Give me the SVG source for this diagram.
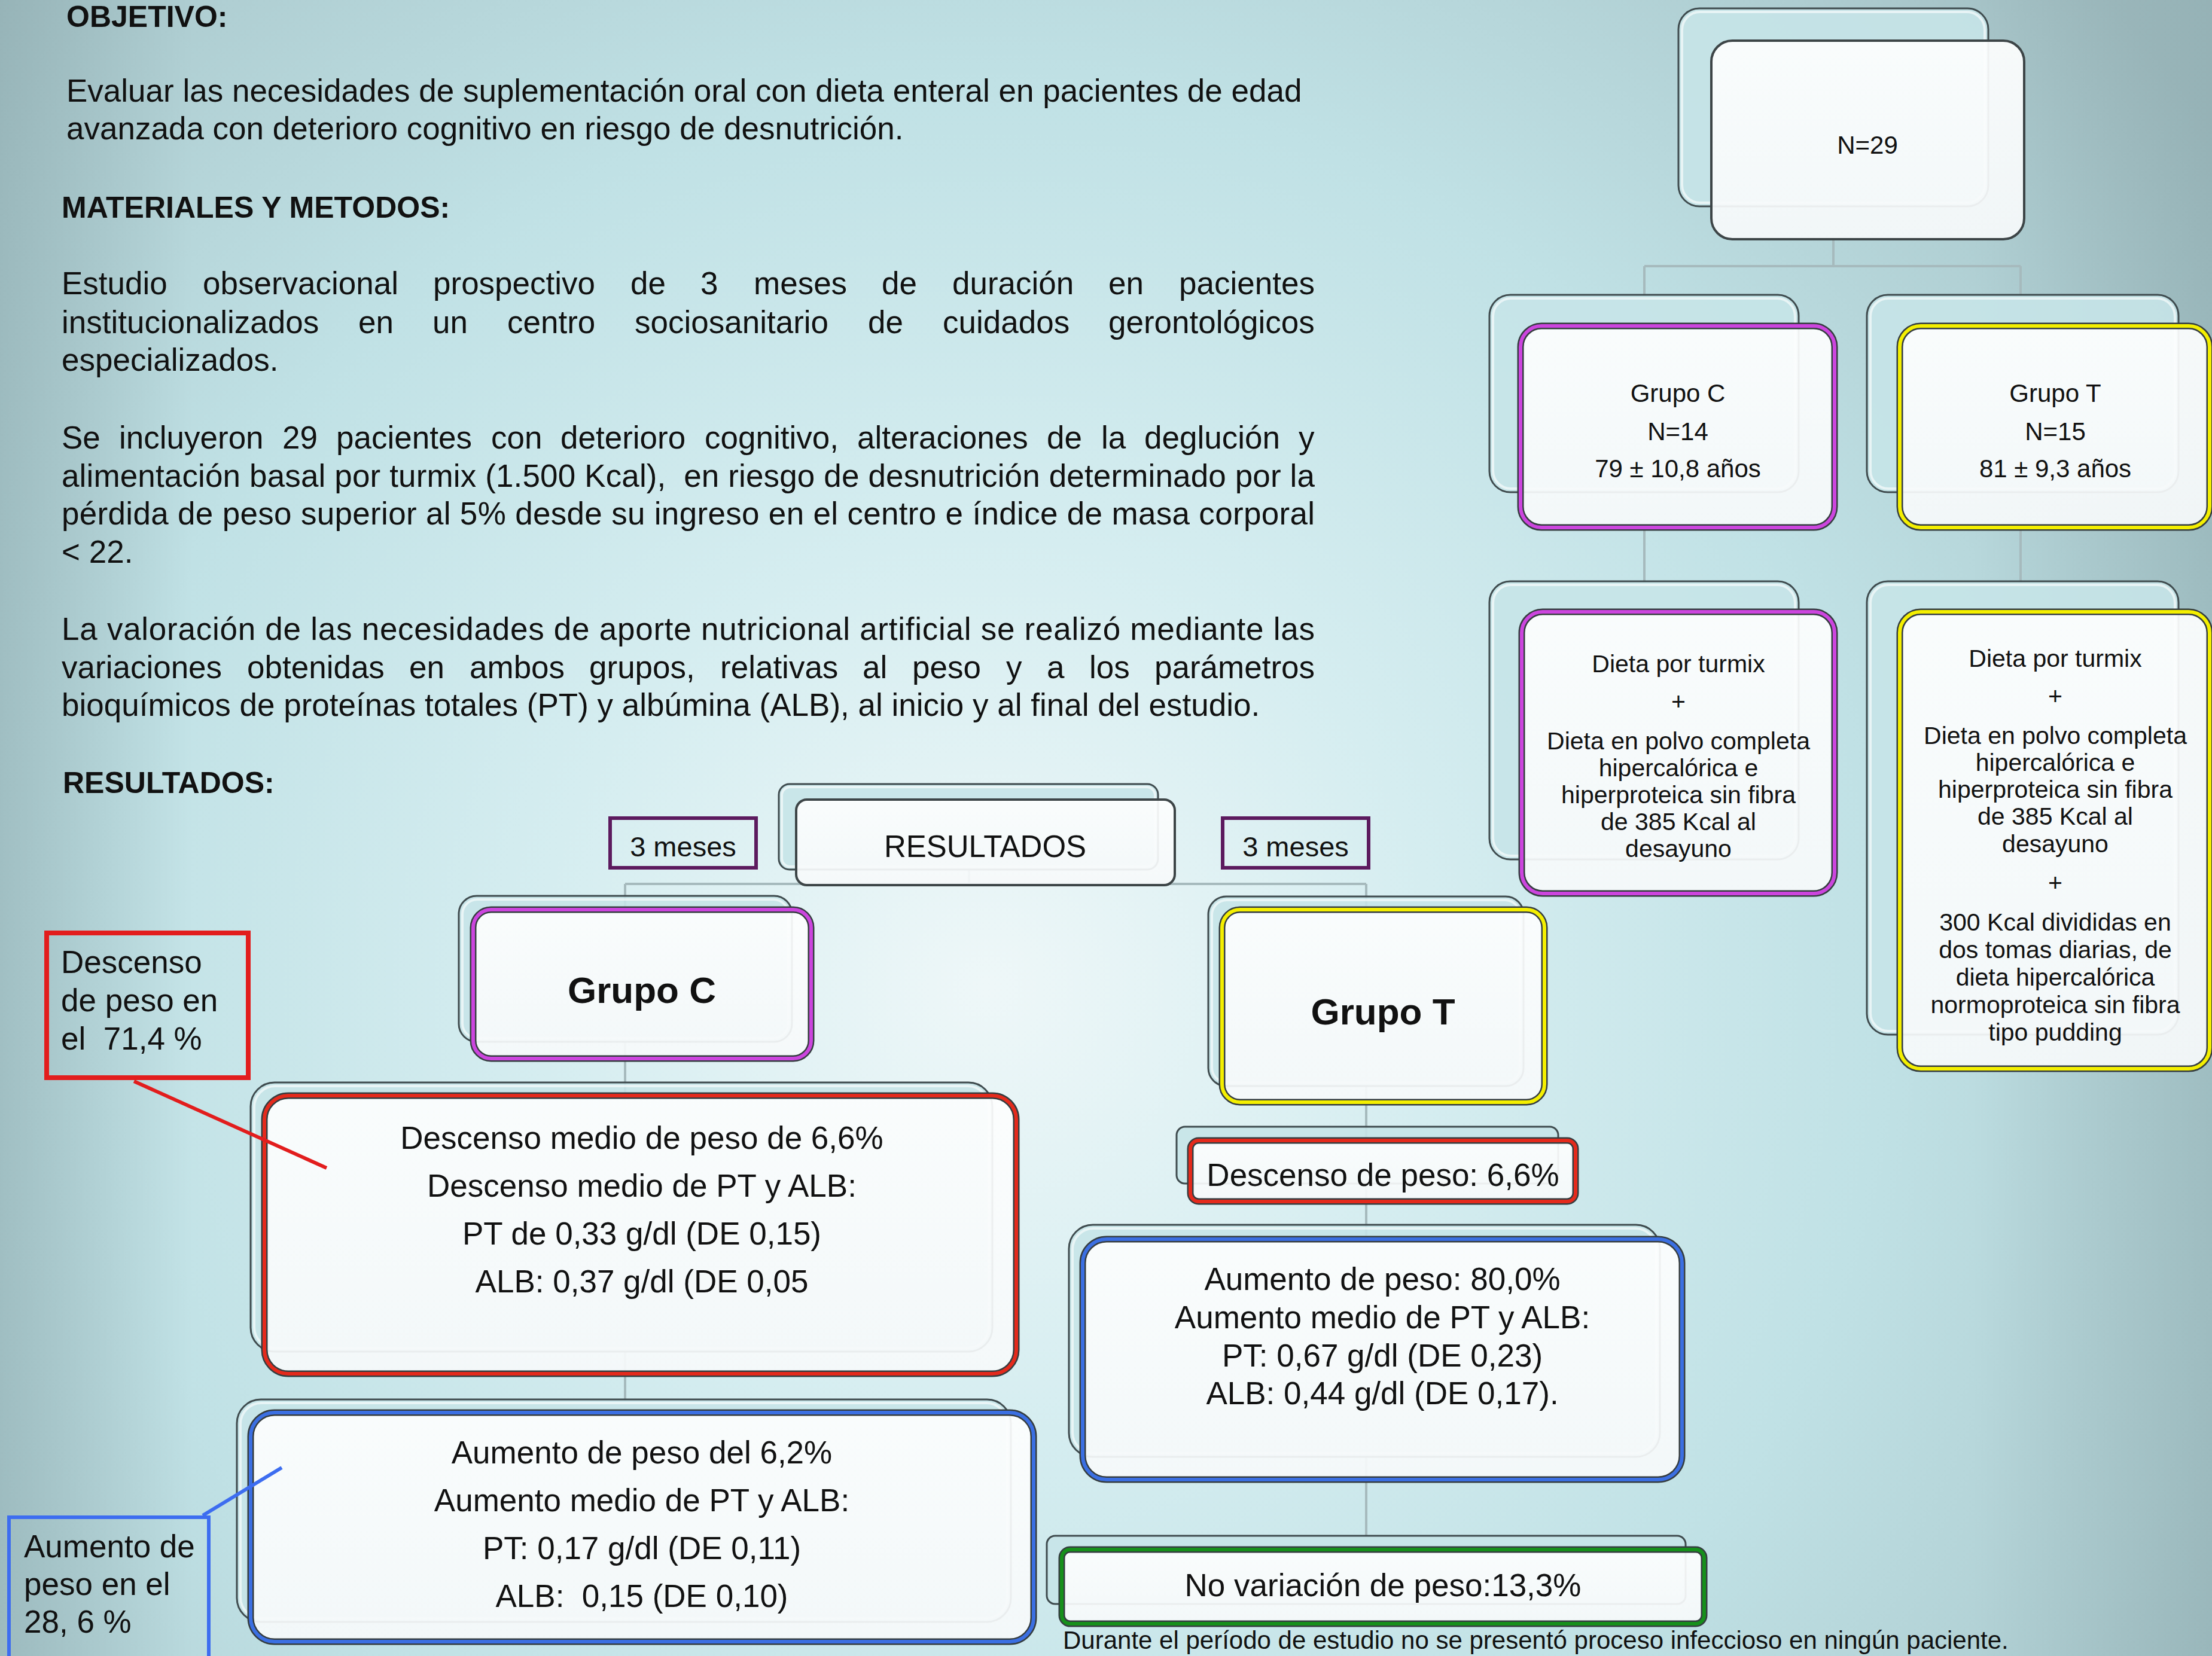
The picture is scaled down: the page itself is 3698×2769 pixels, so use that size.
<svg xmlns="http://www.w3.org/2000/svg" width="3698" height="2769" viewBox="0 0 3698 2769">
<defs>
<radialGradient id="bg" cx="1650" cy="1650" r="2500" gradientUnits="userSpaceOnUse">
<stop offset="0" stop-color="#eef7f8"/>
<stop offset="0.3" stop-color="#d5edf0"/>
<stop offset="0.6" stop-color="#c0e1e5"/>
<stop offset="0.85" stop-color="#aecdd1"/>
<stop offset="1" stop-color="#9fbbbf"/>
</radialGradient>
<linearGradient id="leftShade" x1="0" y1="0" x2="1" y2="0">
<stop offset="0" stop-color="#8aa7ab" stop-opacity="0.55"/>
<stop offset="1" stop-color="#8aa7ab" stop-opacity="0"/>
</linearGradient>
<linearGradient id="rightShade" x1="0" y1="0" x2="1" y2="0">
<stop offset="0" stop-color="#8aa7ab" stop-opacity="0"/>
<stop offset="1" stop-color="#8aa7ab" stop-opacity="0.45"/>
</linearGradient>
<linearGradient id="frontFill" x1="0" y1="0" x2="0" y2="1">
<stop offset="0" stop-color="#fdfefe"/>
<stop offset="1" stop-color="#f6f9fa"/>
</linearGradient>
</defs>
<style>
text{font-family:"Liberation Sans",Arial,sans-serif;fill:#111}
.body{font-size:53px}
.head{font-size:50px;font-weight:bold}
.n42{font-size:42px;text-anchor:middle}
.n41{font-size:41px;text-anchor:middle}
.n53{font-size:53px;text-anchor:middle}
.n47{font-size:47px;text-anchor:middle}
.big{font-size:62px;font-weight:bold;text-anchor:middle}
.back{fill:#c7e4e8;fill-opacity:0.9;stroke:#3f4b4e;stroke-width:3}
.backhl{fill:none;stroke:#ffffff;stroke-opacity:0.6;stroke-width:4}
.front{fill:url(#frontFill);fill-opacity:0.93;stroke:#353d40;stroke-width:11}
.plain{fill:url(#frontFill);fill-opacity:0.93;stroke:#3d4547;stroke-width:4}
.mag{fill:none;stroke:#cc45de;stroke-width:6}
.yel{fill:none;stroke:#f4ef00;stroke-width:6}
.red{fill:none;stroke:#e42a1c;stroke-width:6}
.blu{fill:none;stroke:#3b6fe2;stroke-width:6}
.grn{fill:none;stroke:#16901b;stroke-width:6}
.conn{stroke:#a6babd;stroke-width:4;fill:none}
.mes{fill:none;stroke:#5c1a5e;stroke-width:6}
</style>

<rect x="0" y="0" width="3698" height="2769" fill="url(#bg)"/>
<rect x="0" y="0" width="320" height="2769" fill="url(#leftShade)"/>
<rect x="3300" y="0" width="398" height="2769" fill="url(#rightShade)"/>

<!-- Left text -->
<g id="texto">
<text class="head" x="111" y="45">OBJETIVO:</text>
<text class="body" x="111" y="170">Evaluar las necesidades de suplementación oral con dieta enteral en pacientes de edad</text>
<text class="body" x="111" y="233">avanzada con deterioro cognitivo en riesgo de desnutrición.</text>
<text class="head" x="103" y="364">MATERIALES Y METODOS:</text>
<text class="body" y="492"><tspan x="103">Estudio</tspan><tspan x="339">observacional</tspan><tspan x="724">prospectivo</tspan><tspan x="1054">de</tspan><tspan x="1171">3</tspan><tspan x="1260">meses</tspan><tspan x="1474">de</tspan><tspan x="1592">duración</tspan><tspan x="1853">en</tspan><tspan x="1971">pacientes</tspan></text>
<text class="body" y="557"><tspan x="103">institucionalizados</tspan><tspan x="599">en</tspan><tspan x="723">un</tspan><tspan x="848">centro</tspan><tspan x="1061">sociosanitario</tspan><tspan x="1451">de</tspan><tspan x="1576">cuidados</tspan><tspan x="1853">gerontológicos</tspan></text>
<text class="body" x="103" y="620">especializados.</text>
<text class="body" y="750"><tspan x="103">Se</tspan><tspan x="199">incluyeron</tspan><tspan x="472">29</tspan><tspan x="562">pacientes</tspan><tspan x="821">con</tspan><tspan x="937">deterioro</tspan><tspan x="1178">cognitivo,</tspan><tspan x="1433">alteraciones</tspan><tspan x="1750">de</tspan><tspan x="1841">la</tspan><tspan x="1913">deglución</tspan><tspan x="2171">y</tspan></text>
<text class="body" x="103" y="814" textLength="2095" lengthAdjust="spacing" xml:space="preserve">alimentación basal por turmix (1.500 Kcal),  en riesgo de desnutrición determinado por la</text>
<text class="body" x="103" y="877" textLength="2095" lengthAdjust="spacing">pérdida de peso superior al 5% desde su ingreso en el centro e índice de masa corporal</text>
<text class="body" x="103" y="941">&lt; 22.</text>
<text class="body" x="103" y="1070" textLength="2095" lengthAdjust="spacing">La valoración de las necesidades de aporte nutricional artificial se realizó mediante las</text>
<text class="body" y="1134"><tspan x="103">variaciones</tspan><tspan x="413">obtenidas</tspan><tspan x="684">en</tspan><tspan x="785">ambos</tspan><tspan x="985">grupos,</tspan><tspan x="1204">relativas</tspan><tspan x="1442">al</tspan><tspan x="1525">peso</tspan><tspan x="1682">y</tspan><tspan x="1750">a</tspan><tspan x="1821">los</tspan><tspan x="1930">parámetros</tspan></text>
<text class="body" x="103" y="1197">bioquímicos de proteínas totales (PT) y albúmina (ALB), al inicio y al final del estudio.</text>
<text class="head" x="105" y="1326">RESULTADOS:</text>
<text style="font-size:42px" x="1777" y="2757">Durante el período de estudio no se presentó proceso infeccioso en ningún paciente.</text>
</g>

<!-- Connectors -->
<g id="connectors">
<path class="conn" d="M3065,400 V445 M2749,445 H3378 M2749,445 V495 M3378,445 V495 M2749,880 V974 M3378,880 V974"/>
<path class="conn" d="M1620,1450 V1478 M1045,1478 H2284 M1045,1478 V2342 M2284,1478 V2570"/>
</g>

<!-- Top right hierarchy -->
<g id="n29">
<rect class="back" x="2806" y="14" width="518" height="331" rx="35"/>
<rect class="backhl" x="2812" y="20" width="506" height="319" rx="30"/>
<rect class="plain" x="2861" y="68" width="523" height="332" rx="35"/>
<text class="n42" x="3122" y="257">N=29</text>
</g>

<g id="grupoC-top">
<rect class="back" x="2490" y="493" width="517" height="330" rx="35"/>
<rect class="backhl" x="2496" y="499" width="505" height="318" rx="30"/>
<rect class="front" x="2542" y="545" width="525" height="337" rx="35"/>
<rect class="mag" x="2542" y="545" width="525" height="337" rx="35"/>
<text class="n42" x="2805" y="672">Grupo C</text>
<text class="n42" x="2805" y="736">N=14</text>
<text class="n42" x="2805" y="798">79 ± 10,8 años</text>
</g>

<g id="grupoT-top">
<rect class="back" x="3121" y="493" width="521" height="330" rx="35"/>
<rect class="backhl" x="3127" y="499" width="509" height="318" rx="30"/>
<rect class="front" x="3176" y="545" width="518" height="337" rx="35"/>
<rect class="yel" x="3176" y="545" width="518" height="337" rx="35"/>
<text class="n42" x="3436" y="672">Grupo T</text>
<text class="n42" x="3436" y="736">N=15</text>
<text class="n42" x="3436" y="798">81 ± 9,3 años</text>
</g>

<g id="dietaC">
<rect class="back" x="2490" y="972" width="517" height="465" rx="35"/>
<rect class="backhl" x="2496" y="978" width="505" height="453" rx="30"/>
<rect class="front" x="2544" y="1023" width="523" height="471" rx="35"/>
<rect class="mag" x="2544" y="1023" width="523" height="471" rx="35"/>
<text class="n41" x="2806" y="1124">Dieta por turmix</text>
<text class="n41" x="2806" y="1187">+</text>
<text class="n41" x="2806" y="1253">Dieta en polvo completa</text>
<text class="n41" x="2806" y="1298">hipercalórica e</text>
<text class="n41" x="2806" y="1343">hiperproteica sin fibra</text>
<text class="n41" x="2806" y="1388">de 385 Kcal al</text>
<text class="n41" x="2806" y="1433">desayuno</text>
</g>

<g id="dietaT">
<rect class="back" x="3121" y="972" width="521" height="758" rx="35"/>
<rect class="backhl" x="3127" y="978" width="509" height="746" rx="30"/>
<rect class="front" x="3176" y="1023" width="518" height="764" rx="35"/>
<rect class="yel" x="3176" y="1023" width="518" height="764" rx="35"/>
<text class="n41" x="3436" y="1115">Dieta por turmix</text>
<text class="n41" x="3436" y="1178">+</text>
<text class="n41" x="3436" y="1244">Dieta en polvo completa</text>
<text class="n41" x="3436" y="1289">hipercalórica e</text>
<text class="n41" x="3436" y="1334">hiperproteica sin fibra</text>
<text class="n41" x="3436" y="1379">de 385 Kcal al</text>
<text class="n41" x="3436" y="1425">desayuno</text>
<text class="n41" x="3436" y="1490">+</text>
<text class="n41" x="3436" y="1556">300 Kcal divididas en</text>
<text class="n41" x="3436" y="1602">dos tomas diarias, de</text>
<text class="n41" x="3436" y="1648">dieta hipercalórica</text>
<text class="n41" x="3436" y="1694">normoproteica sin fibra</text>
<text class="n41" x="3436" y="1740">tipo pudding</text>
</g>

<!-- Results hierarchy -->
<g id="resultados">
<rect class="back" x="1302" y="1311" width="634" height="143" rx="18"/>
<rect class="backhl" x="1307" y="1316" width="624" height="133" rx="14"/>
<rect class="plain" x="1331" y="1337" width="633" height="143" rx="18"/>
<text style="font-size:51px;text-anchor:middle" x="1647" y="1433">RESULTADOS</text>
</g>

<g id="meses-C">
<rect class="mes" x="1020" y="1368" width="244" height="83"/>
<text class="n47" x="1142" y="1432">3 meses</text>
</g>
<g id="meses-T">
<rect class="mes" x="2044" y="1368" width="244" height="83"/>
<text class="n47" x="2166" y="1432">3 meses</text>
</g>

<g id="grupoC-res">
<rect class="back" x="767" y="1498" width="557" height="244" rx="30"/>
<rect class="backhl" x="773" y="1504" width="545" height="232" rx="25"/>
<rect class="front" x="791" y="1521" width="565" height="249" rx="30"/>
<rect class="mag" x="791" y="1521" width="565" height="249" rx="30"/>
<text class="big" x="1073" y="1677">Grupo C</text>
</g>

<g id="grupoT-res">
<rect class="back" x="2020" y="1499" width="527" height="317" rx="30"/>
<rect class="backhl" x="2026" y="1505" width="515" height="305" rx="25"/>
<rect class="front" x="2043" y="1521" width="539" height="322" rx="30"/>
<rect class="yel" x="2043" y="1521" width="539" height="322" rx="30"/>
<text class="big" x="2312" y="1713">Grupo T</text>
</g>

<g id="descensoC">
<rect class="back" x="419" y="1810" width="1240" height="450" rx="40"/>
<rect class="backhl" x="425" y="1816" width="1228" height="438" rx="35"/>
<rect class="front" x="442" y="1832" width="1257" height="465" rx="40"/>
<rect class="red" x="442" y="1832" width="1257" height="465" rx="40"/>
<text class="n53" x="1073" y="1921">Descenso medio de peso de 6,6%</text>
<text class="n53" x="1073" y="2001">Descenso medio de PT y ALB:</text>
<text class="n53" x="1073" y="2081">PT de 0,33 g/dl (DE 0,15)</text>
<text class="n53" x="1073" y="2161">ALB: 0,37 g/dl (DE 0,05</text>
</g>

<g id="aumentoC">
<rect class="back" x="396" y="2340" width="1294" height="372" rx="40"/>
<rect class="backhl" x="402" y="2346" width="1282" height="360" rx="35"/>
<rect class="front" x="419" y="2362" width="1309" height="383" rx="40"/>
<rect class="blu" x="419" y="2362" width="1309" height="383" rx="40"/>
<text class="n53" x="1073" y="2447">Aumento de peso del 6,2%</text>
<text class="n53" x="1073" y="2527">Aumento medio de PT y ALB:</text>
<text class="n53" x="1073" y="2607">PT: 0,17 g/dl (DE 0,11)</text>
<text class="n53" x="1073" y="2687" xml:space="preserve">ALB:  0,15 (DE 0,10)</text>
</g>

<g id="descensoT">
<rect class="back" x="1967" y="1884" width="638" height="95" rx="14"/>
<rect class="front" x="1990" y="1907" width="644" height="102" rx="14"/>
<rect class="red" x="1990" y="1907" width="644" height="102" rx="14"/>
<text class="n53" x="2312" y="1983">Descenso de peso: 6,6%</text>
</g>

<g id="aumentoT">
<rect class="back" x="1787" y="2048" width="988" height="388" rx="40"/>
<rect class="backhl" x="1793" y="2054" width="976" height="376" rx="35"/>
<rect class="front" x="1810" y="2072" width="1002" height="402" rx="40"/>
<rect class="blu" x="1810" y="2072" width="1002" height="402" rx="40"/>
<text class="n53" x="2311" y="2157">Aumento de peso: 80,0%</text>
<text class="n53" x="2311" y="2221">Aumento medio de PT y ALB:</text>
<text class="n53" x="2311" y="2285">PT: 0,67 g/dl (DE 0,23)</text>
<text class="n53" x="2311" y="2348">ALB: 0,44 g/dl (DE 0,17).</text>
</g>

<g id="novariacionT">
<rect class="back" x="1750" y="2568" width="1068" height="114" rx="14"/>
<rect class="front" x="1775" y="2591" width="1074" height="124" rx="14"/>
<rect class="grn" x="1775" y="2591" width="1074" height="124" rx="14"/>
<text class="n53" x="2312" y="2669">No variación de peso:13,3%</text>
</g>

<!-- Callouts -->
<g id="callout-descenso">
<rect x="78" y="1560" width="337" height="242" fill="none" stroke="#e21d1d" stroke-width="8"/>
<text class="body" x="102" y="1627">Descenso</text>
<text class="body" x="102" y="1691">de peso en</text>
<text class="body" x="102" y="1755" xml:space="preserve">el  71,4 %</text>
</g>
<g id="callout-aumento">
<rect x="15" y="2537" width="334" height="280" fill="none" stroke="#3d6df0" stroke-width="6"/>
<text class="body" x="40" y="2604">Aumento de</text>
<text class="body" x="40" y="2667">peso en el</text>
<text class="body" x="40" y="2730">28, 6 %</text>
</g>
<g id="callout-lines">
<line x1="224" y1="1808" x2="546" y2="1953" stroke="#e21d1d" stroke-width="6"/>
<line x1="339" y1="2534" x2="471" y2="2454" stroke="#3d6df0" stroke-width="6"/>
</g>
</svg>
